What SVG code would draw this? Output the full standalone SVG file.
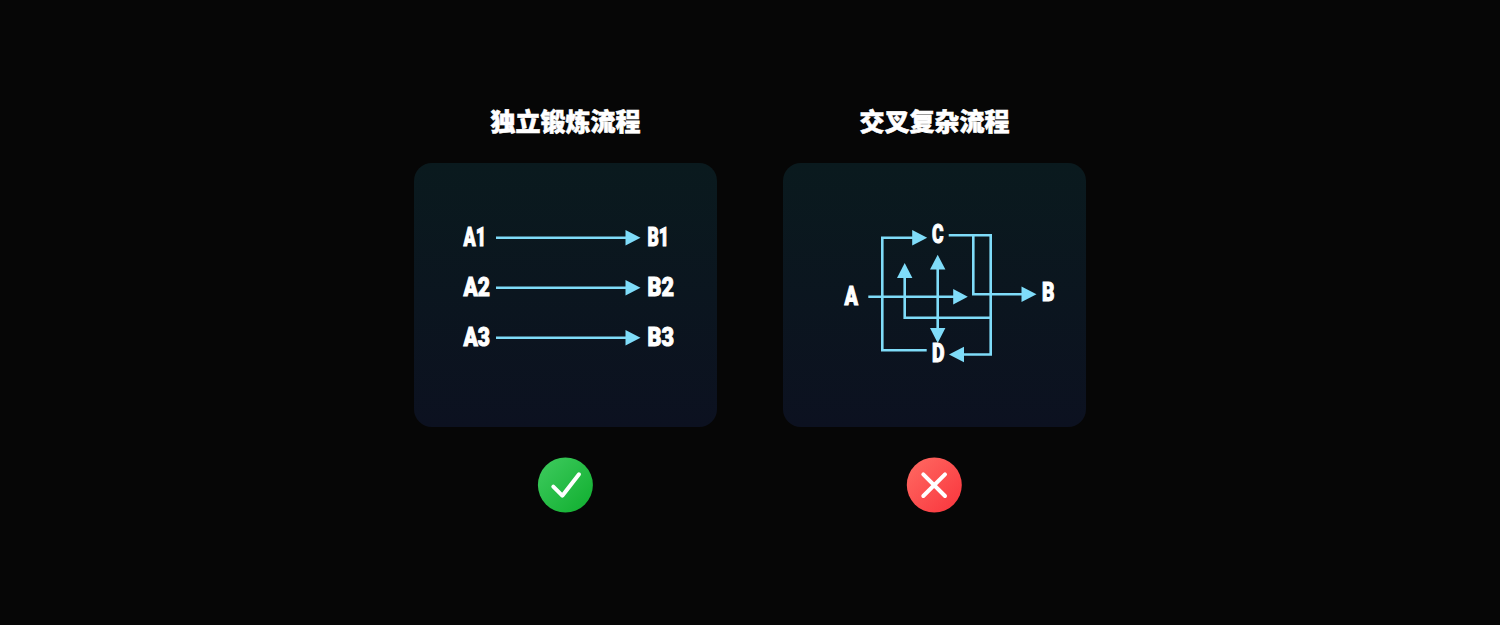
<svg xmlns="http://www.w3.org/2000/svg" width="1500" height="625" viewBox="0 0 1500 625">
<style>
.title{font-family:"Noto Sans CJK SC","Noto Sans",sans-serif;font-weight:900;font-size:25px;fill:#fff;stroke:#fff;stroke-width:.6px;text-anchor:middle}
.lbl{font-family:Roboto,"Liberation Sans",sans-serif;font-weight:900;font-size:25.5px;fill:#fff;stroke:#fff;stroke-width:1px}
.ln{fill:none;stroke:#7fdcf9;stroke-width:2.6px}
.head{fill:#7fdcf9}
</style>
<defs>
<linearGradient id="panel" x1="0" y1="0" x2="0" y2="1"><stop offset="0" stop-color="#0a1a1e"/><stop offset="1" stop-color="#0c1120"/></linearGradient>
<linearGradient id="ok" x1="0" y1="0" x2="1" y2="1"><stop offset="0" stop-color="#3fcb5f"/><stop offset="1" stop-color="#0fae2e"/></linearGradient>
<linearGradient id="no" x1="0" y1="0" x2="1" y2="1"><stop offset="0" stop-color="#ff6b63"/><stop offset="1" stop-color="#f9343c"/></linearGradient>
</defs>
<rect width="1500" height="625" fill="#060606"/>
<g id="panel-left">
<text class="title" x="565.5" y="131">独立锻炼流程</text>
<rect x="414" y="163" width="303" height="264" rx="18" fill="url(#panel)"/>
</g>
<g id="panel-right">
<text class="title" x="934.5" y="131">交叉复杂流程</text>
<rect x="783" y="163" width="303" height="264" rx="18" fill="url(#panel)"/>
</g>
<g id="connectors">
<path class="ln" d="M496 237.7H628M496 287.7H628M496 337.7H628"/>
<path class="head" d="M640.5 237.7L625.5 230V245.4ZM640.5 287.7L625.5 280V295.4ZM640.5 337.7L625.5 330V345.4Z"/>
<path class="ln" d="M926.7 350.3H882.3V237.7H914"/>
<path class="head" d="M927.2 237.7L912.2 230V245.4Z"/>
<path class="ln" d="M868.3 296.7H955"/>
<path class="head" d="M967.8 296.7L953.2 289V304.4Z"/>
<path class="ln" d="M948.7 235.3H990.7V354.5H962"/>
<path class="head" d="M949 354.5L964 346.8V362.2Z"/>
<path class="ln" d="M973.3 235.3V294.3H1023"/>
<path class="head" d="M1036.5 294.3L1021.5 286.6V302Z"/>
<path class="ln" d="M990.7 317.7H904.7V276"/>
<path class="head" d="M904.7 263L897 278H912.4Z"/>
<path class="ln" d="M937.7 268V330"/>
<path class="head" d="M937.7 254.7L930 269.5H945.4ZM937.7 343L930 328H945.4Z"/>
</g>
<g id="node-a1"><text class="lbl" x="463.5" y="245.5" textLength="22.5" lengthAdjust="spacingAndGlyphs">A1</text></g>
<g id="node-a2"><text class="lbl" x="463.5" y="295.5" textLength="26.5" lengthAdjust="spacingAndGlyphs">A2</text></g>
<g id="node-a3"><text class="lbl" x="463.5" y="345.5" textLength="26.5" lengthAdjust="spacingAndGlyphs">A3</text></g>
<g id="node-b1"><text class="lbl" x="647.5" y="245.5" textLength="21.5" lengthAdjust="spacingAndGlyphs">B1</text></g>
<g id="node-b2"><text class="lbl" x="647.5" y="295.5" textLength="26.5" lengthAdjust="spacingAndGlyphs">B2</text></g>
<g id="node-b3"><text class="lbl" x="647.5" y="345.5" textLength="26.5" lengthAdjust="spacingAndGlyphs">B3</text></g>
<g id="node-a"><text class="lbl" x="844.5" y="304.5" textLength="13.5" lengthAdjust="spacingAndGlyphs">A</text></g>
<g id="node-b"><text class="lbl" x="1042" y="300.5" textLength="12.5" lengthAdjust="spacingAndGlyphs">B</text></g>
<g id="node-c"><text class="lbl" x="932" y="242.5" textLength="11.5" lengthAdjust="spacingAndGlyphs">C</text></g>
<g id="node-d"><text class="lbl" x="932" y="361.5" textLength="12.5" lengthAdjust="spacingAndGlyphs">D</text></g>
<g id="icon-ok">
<circle cx="565.4" cy="485" r="27.5" fill="url(#ok)"/>
<path d="M553.3 486.7L562.3 495.7L579 474.3" fill="none" stroke="#fff" stroke-width="4" stroke-linecap="round" stroke-linejoin="round"/>
</g>
<g id="icon-no">
<circle cx="934.3" cy="485" r="27.5" fill="url(#no)"/>
<path d="M923.3 474.3L945 496M945 474.3L923.3 496" fill="none" stroke="#fff" stroke-width="4" stroke-linecap="round"/>
</g>
</svg>
